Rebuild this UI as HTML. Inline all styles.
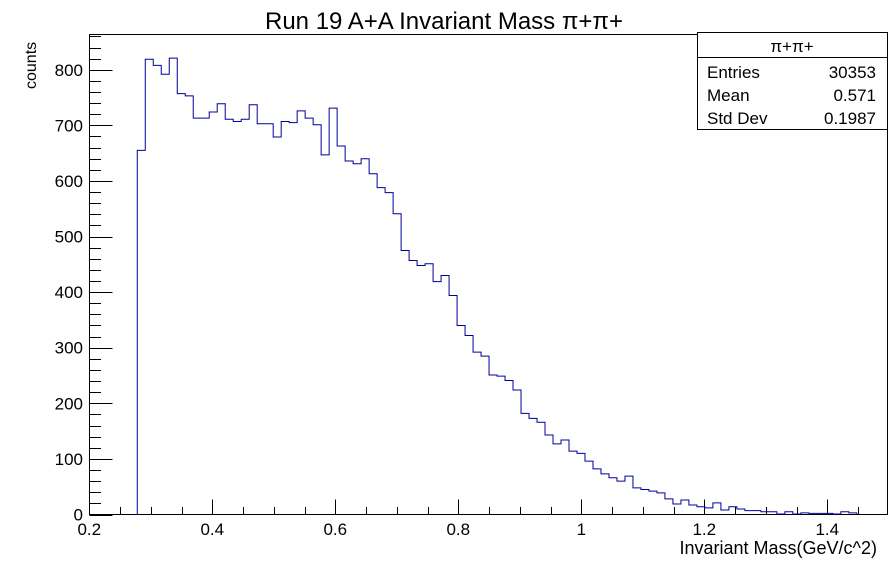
<!DOCTYPE html>
<html><head><meta charset="utf-8"><style>
html,body{margin:0;padding:0;background:#fff;}
svg{display:block;font-family:"Liberation Sans",sans-serif;}
</style></head><body>
<svg id="c" width="896" height="572" viewBox="0 0 896 572">
<text x="444" y="29" font-size="24" text-anchor="middle">Run 19 A+A Invariant Mass π+π+</text>
<text transform="translate(36,89) rotate(-90)" font-size="16" text-anchor="start">counts</text>
<text x="877" y="554" font-size="18" text-anchor="end">Invariant Mass(GeV/c^2)</text>
<rect x="89.5" y="34.5" width="798" height="480" fill="none" stroke="#000" stroke-width="1"/>
<g id="ticks"></g>
<path id="hist" fill="none" stroke="#000099" stroke-width="1"/>
<g>
<rect x="697.5" y="32.5" width="190" height="97" fill="#fff" stroke="#000" stroke-width="1"/>
<line x1="697.5" y1="57.5" x2="887.5" y2="57.5" stroke="#000"/>
<text x="792" y="52" font-size="17" text-anchor="middle">π+π+</text>
<text x="707" y="78" font-size="17">Entries</text><text x="876" y="78" font-size="17" text-anchor="end">30353</text>
<text x="707" y="101" font-size="17">Mean</text><text x="876" y="101" font-size="17" text-anchor="end">0.571</text>
<text x="707" y="124" font-size="17">Std Dev</text><text x="876" y="124" font-size="17" text-anchor="end">0.1987</text>
</g>
</svg>
<script>
const xStart = 0.278;
const binWidth = 0.013;
const counts = [655,819,808,792,821,757,753,713,713,724,739,711,707,711,737,703,703,679,707,705,726,713,701,647,731,663,636,631,640,613,588,579,541,475,457,448,451,419,430,394,340,322,292,285,251,249,241,224,182,173,166,143,127,134,114,110,96,82,73,66,60,69,48,45,42,39,28,19,26,17,14,12,21,8,14,10,7,7,5,5,1,5,1,3,2,2,2,1,5,3];
const xTickLabels = ["0.2","0.4","0.6","0.8","1","1.2","1.4"];
const yTickLabels = ["0","100","200","300","400","500","600","700","800"];
const NS="http://www.w3.org/2000/svg";
const X0=89.3, PXU=615, Y0=514.5, PXC=0.5559;
function xs(v){return X0+(v-0.2)*PXU;}
function ys(v){return Y0-v*PXC;}
let d="M"+xs(xStart).toFixed(2)+","+ys(0);
counts.forEach((c,i)=>{
  const a=xs(xStart+i*binWidth), b=xs(xStart+(i+1)*binWidth);
  d+=" L"+a.toFixed(2)+","+ys(c).toFixed(2)+" L"+b.toFixed(2)+","+ys(c).toFixed(2);
});
d+=" L"+xs(xStart+counts.length*binWidth).toFixed(2)+","+ys(0);
document.getElementById('hist').setAttribute('d',d);
const g=document.getElementById('ticks');
function ln(x1,y1,x2,y2,name){const l=document.createElementNS(NS,'line');l.setAttribute('x1',x1);l.setAttribute('y1',y1);l.setAttribute('x2',x2);l.setAttribute('y2',y2);l.setAttribute('stroke','#000');


g.appendChild(l);}
function tx(x,y,s,anchor,name){const t=document.createElementNS(NS,'text');t.setAttribute('x',x);t.setAttribute('y',y);t.setAttribute('font-size','17');t.setAttribute('text-anchor',anchor);t.textContent=s;


g.appendChild(t);}
for(let k=0;k<=26;k++){const v=0.2+k*0.05;const x=Math.round(xs(v))+0.5;if(x>888)break;ln(x,Y0,x,Y0-(k%4===0?15:7.5),'x-tick');}
xTickLabels.forEach(s=>{tx(xs(parseFloat(s)),535,s,'middle','x-tick-label');});
for(let v=0;v<=860;v+=20){const y=Math.round(ys(v))+0.5;if(y<35)break;ln(89.5,y,89.5+(v%100===0?23:11.5),y,'y-tick');}
yTickLabels.forEach(s=>{tx(83,ys(parseFloat(s))+6,s,'end','y-tick-label');});
</script>
</body></html>
